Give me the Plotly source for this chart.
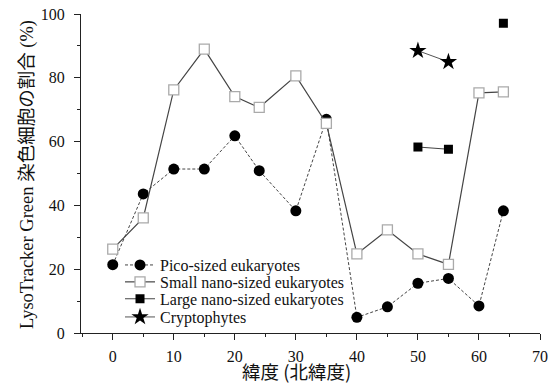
import plotly.graph_objects as go

lat = [0, 5, 10, 15, 20, 24, 30, 35, 40, 45, 50, 55, 60, 64]
pico = [21.4, 43.6, 51.4, 51.4, 61.8, 50.9, 38.3, 67.0, 4.9, 8.2, 15.6, 17.1, 8.5, 38.3]
small_nano = [26.3, 36.1, 76.2, 89.0, 74.1, 70.7, 80.6, 65.7, 24.8, 32.3, 24.8, 21.5, 75.3, 75.6]
large_lat = [50, 55, 60, 64]
large_nano = [58.3, 57.6, None, 97.1]
crypto_lat = [50, 55]
crypto = [88.5, 85.0]
x_ticks = [0, 10, 20, 30, 40, 50, 60, 70]
y_ticks = [0, 20, 40, 60, 80, 100]

serif = "Liberation Serif, Times New Roman, serif"
cjk = "Noto Sans CJK JP"
ink = "#111111"
axc = "#222222"

fig = go.Figure()
fig.add_trace(go.Scatter(
    x=lat, y=pico, name="Pico-sized eukaryotes", mode="lines+markers", legend="legend",
    line=dict(color="#444444", width=1, dash="3px,2px"),
    marker=dict(symbol="circle", size=11, color="black"),
))
fig.add_trace(go.Scatter(
    x=lat, y=small_nano, name="Small nano-sized eukaryotes", mode="lines+markers", legend="legend2",
    line=dict(color="#444444", width=1.2),
    marker=dict(symbol="square", size=10, color="white", line=dict(color="#aaaaaa", width=1.3)),
))
fig.add_trace(go.Scatter(
    x=large_lat, y=large_nano, name="Large nano-sized eukaryotes", mode="lines+markers", legend="legend3",
    line=dict(color="#444444", width=1.2), connectgaps=False,
    marker=dict(symbol="square", size=9, color="black"),
))
fig.add_trace(go.Scatter(
    x=crypto_lat, y=crypto, name="Cryptophytes", mode="lines+markers", legend="legend4",
    line=dict(color="#555555", width=1),
    marker=dict(symbol="star", size=13, color="black"),
))

def leg(y):
    return dict(x=0.085, y=y, xanchor="left", yanchor="middle",
                bgcolor="rgba(0,0,0,0)", borderwidth=0,
                font=dict(family=serif, size=16, color=ink),
                itemwidth=30, tracegroupgap=0)

fig.update_layout(
    width=552, height=384,
    margin=dict(l=81, r=12, t=14, b=51, pad=0, autoexpand=False),
    paper_bgcolor="white", plot_bgcolor="white",
    font=dict(family=serif, size=16, color=ink),
    showlegend=True,
    legend=leg(0.213), legend2=leg(0.160), legend3=leg(0.107), legend4=leg(0.050),
    xaxis=dict(
        range=[-5.2, 70], tickvals=x_ticks,
        showgrid=False, zeroline=False, showline=True, linecolor=axc, linewidth=1,
        ticks="outside", ticklen=6, tickcolor=axc, automargin=False,
        minor=dict(dtick=5, tick0=0, ticks="outside", ticklen=3, tickcolor=axc),
        ticklabelstandoff=3, ticklabeloverflow="allow",
        tickfont=dict(family=serif, size=16, color=ink),
    ),
    yaxis=dict(
        range=[0, 100], tickvals=y_ticks,
        showgrid=False, zeroline=False, showline=True, linecolor=axc, linewidth=1,
        ticks="outside", ticklen=6, tickcolor=axc, automargin=False,
        minor=dict(dtick=10, tick0=0, ticks="outside", ticklen=3, tickcolor=axc),
        ticklabelstandoff=6, ticklabeloverflow="allow",
        tickfont=dict(family=serif, size=16, color=ink),
    ),
    annotations=[
        dict(text="緯度 (北緯度)", xref="paper", yref="paper", x=0.47, y=-0.12,
             xanchor="center", yanchor="middle", showarrow=False,
             font=dict(family=cjk, size=18.5, color=ink)),
        dict(text="LysoTracker Green 染色細胞の割合 (%)", xref="paper", yref="paper",
             x=-0.1176, y=0.495, xanchor="center", yanchor="middle", textangle=-90,
             showarrow=False,
             font=dict(family="Liberation Serif, Noto Sans CJK JP", size=18.5, color=ink)),
    ],
)

fig.write_html("out.html", config={"displayModeBar": False},
               post_script="document.body.style.margin='0';document.body.style.padding='0';")
